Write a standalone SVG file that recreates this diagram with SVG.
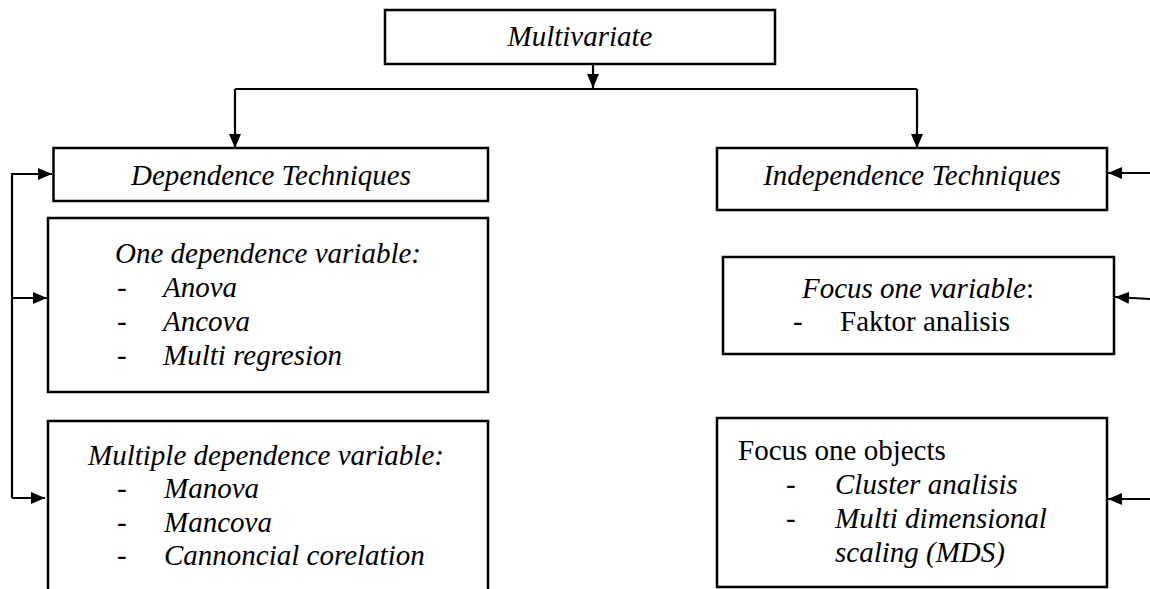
<svg xmlns="http://www.w3.org/2000/svg" width="1150" height="589" viewBox="0 0 1150 589">
<defs>
<style>
.box{fill:#fff;stroke:#000;stroke-width:2.5}
.t{font-family:"Liberation Serif","Times New Roman","DejaVu Serif",serif;font-size:29px;fill:#000}
.i{font-style:italic}
.n{font-style:normal}
.c{stroke:#000;stroke-width:2.2;fill:none}
</style>
<marker id="ah" viewBox="0 0 14 12" refX="14" refY="6" markerWidth="14" markerHeight="12" markerUnits="userSpaceOnUse" orient="auto">
<path d="M0,0 L14,6 L0,12 z" fill="#000"/>
</marker>
</defs>
<rect width="1150" height="589" fill="#fff"/>
<g id="connectors">
<path class="c" d="M593,64 L593,88" marker-end="url(#ah)"/>
<path class="c" d="M235,89 L917,89"/>
<path class="c" d="M235,89 L235,148" marker-end="url(#ah)"/>
<path class="c" d="M917,89 L917,148" marker-end="url(#ah)"/>
<path class="c" d="M12,498 L12,174 L52,174" marker-end="url(#ah)"/>
<path class="c" d="M12,298 L47,298" marker-end="url(#ah)"/>
<path class="c" d="M12,498 L45,498" marker-end="url(#ah)"/>
<path class="c" d="M1150,173 L1108,173" marker-end="url(#ah)"/>
<path class="c" d="M1150,299 L1115,297" marker-end="url(#ah)"/>
<path class="c" d="M1150,499 L1108,499" marker-end="url(#ah)"/>
</g>
<g id="multivariate">
<rect class="box" x="385" y="10" width="390" height="54"/>
<text class="t i" x="580" y="46" text-anchor="middle">Multivariate</text>
</g>
<g id="dependence">
<rect class="box" x="53.5" y="148" width="434.5" height="53"/>
<text class="t i" x="271" y="185" text-anchor="middle">Dependence Techniques</text>
</g>
<g id="independence">
<rect class="box" x="717" y="148" width="390" height="62"/>
<text class="t i" x="912" y="185" text-anchor="middle">Independence Techniques</text>
</g>
<g id="one-dependence">
<rect class="box" x="48" y="218" width="440" height="174"/>
<text class="t i" x="268" y="263" text-anchor="middle">One dependence variable:</text>
<text class="t n" x="117" y="297">-</text><text class="t i" x="163" y="297">Anova</text>
<text class="t n" x="117" y="331">-</text><text class="t i" x="163" y="331">Ancova</text>
<text class="t n" x="117" y="365">-</text><text class="t i" x="163" y="365">Multi regresion</text>
</g>
<g id="multiple-dependence">
<rect class="box" x="48" y="421" width="440" height="200"/>
<text class="t i" x="266" y="465" text-anchor="middle">Multiple dependence variable:</text>
<text class="t n" x="117" y="498">-</text><text class="t i" x="164" y="498">Manova</text>
<text class="t n" x="117" y="532">-</text><text class="t i" x="164" y="532">Mancova</text>
<text class="t n" x="117" y="565">-</text><text class="t i" x="164" y="565">Cannoncial corelation</text>
</g>
<g id="focus-variable">
<rect class="box" x="723" y="257" width="391" height="97"/>
<text class="t" x="802" y="298"><tspan class="i">Focus one variable</tspan><tspan class="n">:</tspan></text>
<text class="t n" x="793" y="331">-</text><text class="t n" x="840" y="331">Faktor analisis</text>
</g>
<g id="focus-objects">
<rect class="box" x="717" y="418" width="390" height="169"/>
<text class="t n" x="738" y="460">Focus one objects</text>
<text class="t n" x="786" y="494">-</text><text class="t i" x="835" y="494">Cluster analisis</text>
<text class="t n" x="786" y="528">-</text><text class="t i" x="835" y="528">Multi dimensional</text>
<text class="t i" x="835" y="562">scaling (MDS)</text>
</g>
</svg>
